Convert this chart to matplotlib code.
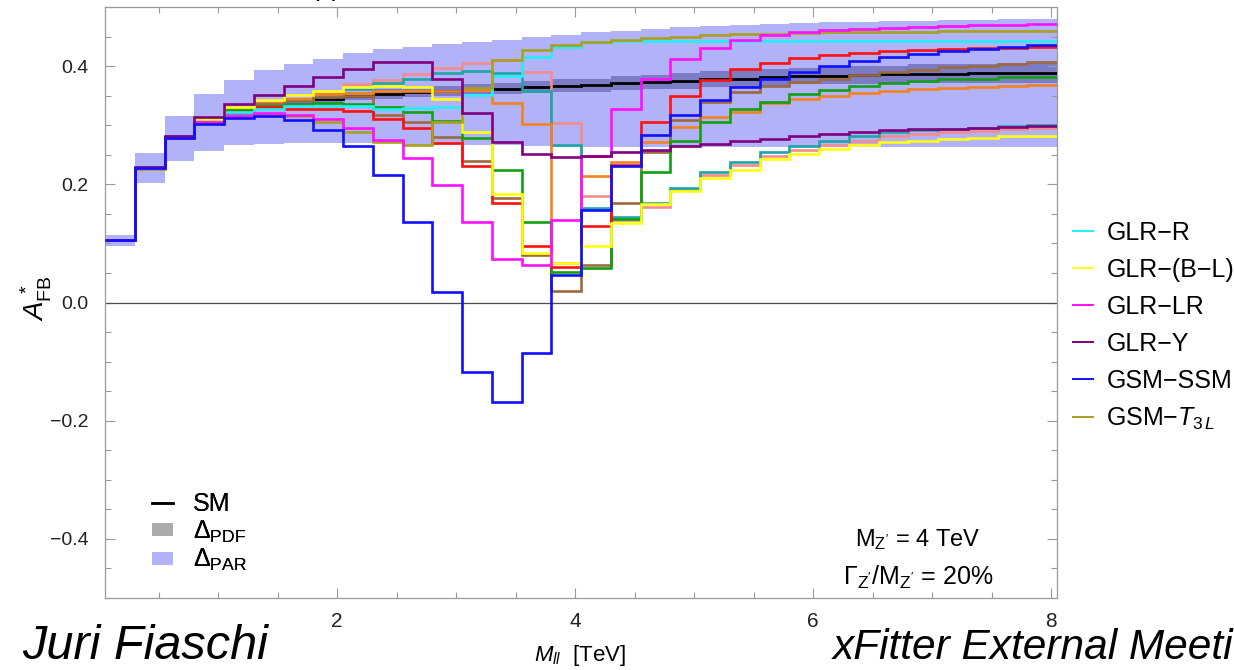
import numpy as np
import matplotlib
matplotlib.use("Agg")
import matplotlib.pyplot as plt
from matplotlib.lines import Line2D
from matplotlib.patches import Patch
from matplotlib.ticker import MultipleLocator, FixedLocator

plt.rcParams['font.family'] = ['Liberation Sans', 'DejaVu Sans']
plt.rcParams['mathtext.fontset'] = 'custom'
plt.rcParams['mathtext.rm'] = 'Liberation Sans'
plt.rcParams['mathtext.it'] = 'Liberation Sans:italic'
plt.rcParams['mathtext.bf'] = 'Liberation Sans:bold'

# Dilepton invariant-mass bins [TeV]
mass_edges = np.round(np.arange(0.05, 8.06, 0.25), 2)

# Standard Model A_FB* and uncertainty bands
sm = [0.106, 0.228, 0.280, 0.308, 0.323, 0.333, 0.340, 0.345, 0.350, 0.353, 0.356,
      0.358, 0.361, 0.362, 0.364, 0.367, 0.368, 0.372, 0.373, 0.375, 0.378, 0.379,
      0.381, 0.383, 0.384, 0.385, 0.386, 0.387, 0.387, 0.388, 0.388, 0.389]
pdf_err = [0.002, 0.003, 0.004, 0.005, 0.005, 0.006, 0.006, 0.007, 0.007, 0.008, 0.008,
           0.009, 0.009, 0.010, 0.010, 0.011, 0.011, 0.012, 0.012, 0.013, 0.013, 0.014,
           0.014, 0.014, 0.015, 0.015, 0.015, 0.016, 0.016, 0.016, 0.017, 0.017]
par_hi = [0.114, 0.253, 0.315, 0.352, 0.376, 0.393, 0.404, 0.412, 0.423, 0.429, 0.433,
          0.437, 0.441, 0.445, 0.449, 0.453, 0.457, 0.460, 0.463, 0.466, 0.468, 0.470,
          0.472, 0.473, 0.474, 0.475, 0.476, 0.477, 0.478, 0.478, 0.479, 0.479]
par_lo = [0.096, 0.202, 0.240, 0.257, 0.266, 0.269, 0.270, 0.270, 0.270, 0.270, 0.267,
          0.267, 0.266, 0.266, 0.264, 0.263, 0.263, 0.263, 0.263, 0.263, 0.263, 0.263,
          0.263, 0.263, 0.263, 0.263, 0.263, 0.263, 0.263, 0.263, 0.263, 0.263]

# Z' benchmark models, M_Z' = 4 TeV, Gamma/M = 20%
glr_r = [0.106, 0.227, 0.279, 0.305, 0.322, 0.328, 0.332, 0.333, 0.333, 0.327, 0.329,
         0.330, 0.351, 0.384, 0.415, 0.432, 0.440, 0.442, 0.442, 0.443, 0.443, 0.443,
         0.443, 0.443, 0.443, 0.443, 0.443, 0.443, 0.443, 0.443, 0.443, 0.443]
glr_bl = [0.106, 0.227, 0.279, 0.310, 0.331, 0.342, 0.351, 0.358, 0.364, 0.366, 0.364,
          0.345, 0.289, 0.183, 0.084, 0.066, 0.096, 0.135, 0.166, 0.189, 0.210, 0.225,
          0.242, 0.251, 0.259, 0.266, 0.271, 0.273, 0.276, 0.279, 0.281, 0.282]
glr_lr = [0.106, 0.227, 0.279, 0.305, 0.315, 0.320, 0.318, 0.310, 0.296, 0.275, 0.245,
          0.198, 0.136, 0.074, 0.064, 0.139, 0.248, 0.328, 0.378, 0.412, 0.430, 0.444,
          0.452, 0.457, 0.461, 0.463, 0.465, 0.467, 0.468, 0.469, 0.470, 0.471]
glr_y = [0.106, 0.230, 0.282, 0.314, 0.336, 0.351, 0.366, 0.381, 0.395, 0.407, 0.407,
         0.378, 0.320, 0.272, 0.251, 0.247, 0.248, 0.254, 0.258, 0.265, 0.269, 0.273,
         0.276, 0.282, 0.285, 0.289, 0.292, 0.293, 0.294, 0.296, 0.297, 0.298]
gsm_ssm = [0.106, 0.227, 0.278, 0.302, 0.313, 0.315, 0.308, 0.292, 0.264, 0.215, 0.137,
           0.017, -0.117, -0.168, -0.086, 0.047, 0.156, 0.231, 0.283, 0.318, 0.343, 0.364,
           0.378, 0.390, 0.401, 0.409, 0.416, 0.420, 0.425, 0.429, 0.433, 0.436]
gsm_t3l = [0.106, 0.226, 0.278, 0.302, 0.316, 0.318, 0.316, 0.306, 0.289, 0.271, 0.266,
           0.305, 0.363, 0.410, 0.427, 0.436, 0.441, 0.444, 0.447, 0.450, 0.452, 0.454,
           0.455, 0.456, 0.457, 0.457, 0.458, 0.458, 0.459, 0.459, 0.459, 0.459]
model_red = [0.106, 0.227, 0.279, 0.308, 0.322, 0.330, 0.328, 0.327, 0.324, 0.311, 0.296,
             0.270, 0.231, 0.169, 0.095, 0.060, 0.129, 0.232, 0.305, 0.350, 0.376, 0.395,
             0.406, 0.413, 0.419, 0.423, 0.426, 0.428, 0.429, 0.430, 0.431, 0.432]
model_green = [0.106, 0.227, 0.279, 0.308, 0.325, 0.332, 0.334, 0.337, 0.336, 0.330, 0.323,
               0.307, 0.278, 0.224, 0.136, 0.052, 0.058, 0.141, 0.221, 0.273, 0.306, 0.327,
               0.340, 0.353, 0.360, 0.367, 0.372, 0.375, 0.378, 0.379, 0.381, 0.382]
model_orange = [0.106, 0.227, 0.279, 0.308, 0.328, 0.338, 0.345, 0.353, 0.355, 0.358, 0.358,
                0.358, 0.360, 0.338, 0.302, 0.066, 0.214, 0.238, 0.271, 0.297, 0.314, 0.323,
                0.337, 0.344, 0.349, 0.354, 0.358, 0.361, 0.363, 0.365, 0.367, 0.368]
model_brown = [0.106, 0.227, 0.279, 0.307, 0.322, 0.336, 0.341, 0.348, 0.350, 0.317, 0.305,
               0.280, 0.240, 0.176, 0.080, 0.020, 0.063, 0.169, 0.255, 0.308, 0.340, 0.357,
               0.366, 0.373, 0.379, 0.385, 0.390, 0.394, 0.398, 0.401, 0.404, 0.407]
model_salmon = [0.106, 0.227, 0.279, 0.308, 0.328, 0.335, 0.343, 0.355, 0.370, 0.377, 0.386,
                0.396, 0.406, 0.411, 0.390, 0.303, 0.180, 0.140, 0.162, 0.190, 0.215, 0.232,
                0.248, 0.258, 0.266, 0.274, 0.281, 0.285, 0.288, 0.290, 0.293, 0.296]
model_teal = [0.106, 0.227, 0.279, 0.307, 0.325, 0.333, 0.340, 0.350, 0.362, 0.372, 0.379,
              0.389, 0.392, 0.389, 0.358, 0.266, 0.160, 0.145, 0.168, 0.194, 0.220, 0.238,
              0.254, 0.265, 0.273, 0.281, 0.288, 0.292, 0.294, 0.296, 0.299, 0.300]

legend_labels = ["GLR−R", "GLR−(B−L)", "GLR−LR", "GLR−Y", "GSM−SSM", r"GSM−$T_{3\,L}$"]

fig = plt.figure(figsize=(12.34, 6.70), dpi=100)
ax = fig.add_axes([105 / 1234, 72 / 670, 952 / 1234, 591 / 670])

sm_a = np.array(sm)
pdf_a = np.array(pdf_err)
par_col = '#b2b2f8'
ax.stairs(par_hi, mass_edges, baseline=par_lo, fill=True, color=par_col, lw=0, zorder=1)
ax.stairs(sm_a + pdf_a, mass_edges, baseline=sm_a - pdf_a, fill=True,
          color='#7c7cc6', lw=0, zorder=1.5)
ax.axhline(0.0, color='#4d4d4d', lw=0.9, zorder=2)
ax.stairs(sm, mass_edges, baseline=None, color='black', lw=2.0, zorder=3)

extra = [
    (model_salmon, '#f48c8c'),
    (model_teal, '#1fa5a5'),
    (model_orange, '#f58220'),
    (model_brown, '#9c6a3c'),
    (model_green, '#12a012'),
    (model_red, '#ff1010'),
]
for vals, col in extra:
    ax.stairs(vals, mass_edges, baseline=None, color=col, lw=1.9, zorder=4)

named = [
    (glr_r, '#22eef5'),
    (glr_bl, '#ffff10'),
    (glr_lr, '#ff10ff'),
    (glr_y, '#800080'),
    (gsm_ssm, '#1010ff'),
    (gsm_t3l, '#a8a020'),
]
named_order = [0, 1, 5, 2, 3, 4]
for i in named_order:
    vals, col = named[i]
    ax.stairs(vals, mass_edges, baseline=None, color=col, lw=1.9, zorder=5)

ax.set_xlim(0.05, 8.05)
ax.set_ylim(-0.5, 0.5)
ax.xaxis.set_major_locator(FixedLocator([2, 4, 6, 8]))
ax.xaxis.set_minor_locator(MultipleLocator(0.5))
ax.yaxis.set_major_locator(FixedLocator([-0.4, -0.2, 0.0, 0.2, 0.4]))
ax.yaxis.set_minor_locator(MultipleLocator(0.05))
ax.set_yticklabels(['−0.4', '−0.2', '0.0', '0.2', '0.4'])
tick_col = '#9a9a9a'
ax.tick_params(which='both', direction='in', top=True, right=True, color=tick_col,
               width=0.8, labelsize=14, labelcolor='#222222')
ax.tick_params(which='major', length=7)
ax.tick_params(which='minor', length=4)
ax.tick_params(axis='x', pad=10, labelsize=15)
ax.tick_params(axis='y', pad=12)
for sp in ax.spines.values():
    sp.set_color(tick_col)
    sp.set_linewidth(0.9)

# left legend: SM and uncertainty bands
h_left = [Line2D([], [], color='black', lw=1.8),
          Patch(facecolor='#ababab', edgecolor='none'),
          Patch(facecolor=par_col, edgecolor='none')]
leg1 = ax.legend(h_left, ['SM', r'$\Delta_{\mathrm{PDF}}$', r'$\Delta_{\mathrm{PAR}}$'],
                 loc='upper left', bbox_to_anchor=(152 / 1234, (670 - 492) / 670),
                 bbox_transform=fig.transFigure, frameon=False, fontsize=18,
                 handlelength=0.85, handleheight=0.45, handletextpad=0.8,
                 labelspacing=0.1, borderpad=0, borderaxespad=0)
ax.add_artist(leg1)

# right legend: benchmark models
h_right = [Line2D([], [], color=named[i][1], lw=1.4) for i in range(6)]
fig.legend(h_right, legend_labels, loc='upper left',
           bbox_to_anchor=(1073 / 1234, (670 - 221) / 670), frameon=False,
           fontsize=18, handlelength=0.78, handletextpad=0.56, labelspacing=0.52,
           borderpad=0, borderaxespad=0)

fig.text(918 / 1234, (670 - 540) / 670, r"$\mathrm{M}_{\mathrm{Z'}}$ = 4 TeV",
         ha='center', va='center', fontsize=17)
fig.text(918 / 1234, (670 - 577) / 670,
         r"$\Gamma_{\mathrm{Z'}}/\mathrm{M}_{\mathrm{Z'}}$ = 20%",
         ha='center', va='center', fontsize=18)

fig.text(580 / 1234, (670 - 655) / 670, r"$M_{ll}$  [TeV]", ha='center', va='center',
         fontsize=16)
fig.text(36 / 1234, (670 - 298) / 670, r"$A_{\mathrm{FB}}^{\,*}$", ha='center',
         va='center', rotation=90, fontsize=20)

fig.text(22 / 1234, (670 - 659) / 670, "Juri Fiaschi", fontsize=35, style='italic',
         ha='left', va='baseline')
fig.text(833 / 1234, (670 - 659) / 670, "xFitter External Meeti", fontsize=30.5,
         style='italic', ha='left', va='baseline')
fig.text(0.455, 1 + 5.0 / 670, "pp → ℓℓ, √s = 13 TeV @ LHC, L = 3 ab⁻¹",
         ha='center', va='baseline', fontsize=20)

fig.savefig("out.png", dpi=100)
